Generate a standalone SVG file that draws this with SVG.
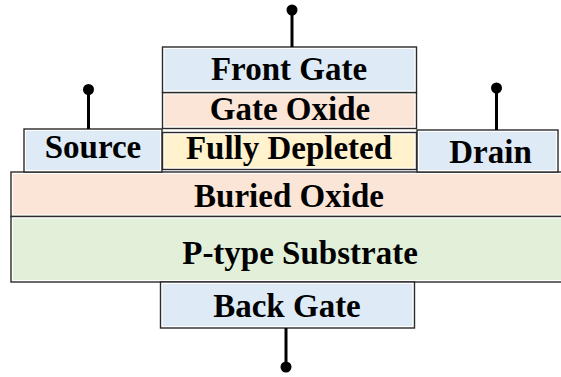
<svg xmlns="http://www.w3.org/2000/svg" width="561" height="377" viewBox="0 0 561 377">
  <style>
    .frame { fill: #ffffff; stroke: #2a2a2a; stroke-width: 1.4; }
    .blue { fill: #deebf7; }
    .peach { fill: #fbe5d6; }
    .yellow { fill: #fff2cc; }
    .green { fill: #e2f0d9; }
    .lbl { font-family: "Liberation Serif", "Times New Roman", serif; font-weight: bold; font-size: 33px; fill: #000000; text-anchor: middle; }
    .wire { stroke: #000000; stroke-width: 3; fill: none; }
    .pin { fill: #000000; }
  </style>

  <!-- Layers of the device stack -->
  <g id="buried-oxide">
    <rect class="frame" x="11" y="172" width="555" height="44.5"/>
    <rect class="peach" x="13" y="174" width="553" height="40.5"/>
    <text class="lbl" x="289" y="206.5">Buried Oxide</text>
  </g>
  <g id="substrate">
    <rect class="frame" x="11" y="216.5" width="555" height="65.5"/>
    <rect class="green" x="13" y="218.5" width="553" height="61.5"/>
    <text class="lbl" x="300" y="263.5">P-type Substrate</text>
  </g>
  <g id="source">
    <rect class="frame" x="24" y="129" width="138" height="43"/>
    <rect class="blue" x="26" y="131" width="134" height="39"/>
    <text class="lbl" x="93" y="158">Source</text>
  </g>
  <g id="drain">
    <rect class="frame" x="417" y="130" width="141" height="42"/>
    <rect class="blue" x="419" y="132" width="137" height="38"/>
    <text class="lbl" x="490.5" y="163">Drain</text>
  </g>
  <g id="channel">
    <rect class="frame" x="162.5" y="132.5" width="254" height="37"/>
    <rect class="yellow" x="164.5" y="134.5" width="250" height="33"/>
    <text class="lbl" x="289" y="158.5">Fully Depleted</text>
  </g>
  <g id="gate-oxide">
    <rect class="frame" x="162.5" y="92.5" width="254" height="36"/>
    <rect class="peach" x="164.5" y="94.5" width="250" height="32"/>
    <text class="lbl" x="290" y="119.5">Gate Oxide</text>
  </g>
  <g id="front-gate">
    <rect class="frame" x="162.5" y="47" width="254" height="45.5"/>
    <rect class="blue" x="164.5" y="49" width="250" height="41.5"/>
    <text class="lbl" x="289" y="80">Front Gate</text>
  </g>
  <g id="back-gate">
    <rect class="frame" x="160.5" y="282" width="254" height="46"/>
    <rect class="blue" x="162.5" y="284" width="250" height="42"/>
    <text class="lbl" x="287" y="317">Back Gate</text>
  </g>

  <!-- Terminal leads -->
  <g id="connectors">
    <line class="wire" x1="292" y1="10" x2="292" y2="47"/>
    <circle class="pin" cx="292" cy="10" r="5.5"/>
    <line class="wire" x1="88.5" y1="89.5" x2="88.5" y2="129"/>
    <circle class="pin" cx="88.5" cy="89.5" r="5.5"/>
    <line class="wire" x1="496.5" y1="88" x2="496.5" y2="130"/>
    <circle class="pin" cx="496.5" cy="88" r="5.5"/>
    <line class="wire" x1="286" y1="328" x2="286" y2="367"/>
    <circle class="pin" cx="286" cy="367" r="5.5"/>
  </g>
</svg>
